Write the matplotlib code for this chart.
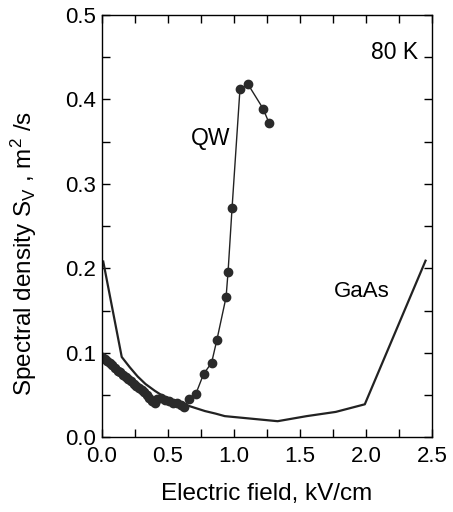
import matplotlib.pyplot as plt
from matplotlib.ticker import MultipleLocator

plt.rcParams['font.family'] = ['Liberation Sans', 'DejaVu Sans']
plt.rcParams['mathtext.fontset'] = 'custom'
plt.rcParams['mathtext.rm'] = 'Liberation Sans'
plt.rcParams['mathtext.it'] = 'Liberation Sans'

# GaAs curve (kV/cm, m^2/s)
x_gaas = [0.01, 0.15, 0.21, 0.27, 0.33, 0.40, 0.46, 0.53, 0.60, 0.68, 0.78, 0.86, 0.93,
          1.33, 1.55, 1.77, 1.99, 2.45]
y_gaas = [0.208, 0.095, 0.083, 0.072, 0.063, 0.055, 0.049, 0.044, 0.040, 0.036, 0.031, 0.028, 0.025,
          0.019, 0.025, 0.030, 0.039, 0.209]

# QW points
x_qw = [0.00, 0.02, 0.04, 0.06, 0.08, 0.10, 0.12, 0.14, 0.16, 0.18, 0.20,
        0.22, 0.24, 0.26, 0.28, 0.30, 0.32, 0.34, 0.36, 0.38, 0.40,
        0.42, 0.45, 0.48, 0.51, 0.54, 0.57, 0.60, 0.62,
        0.66, 0.71, 0.77, 0.83, 0.87, 0.94, 0.955, 0.985, 1.045, 1.105, 1.22, 1.265]
y_qw = [0.095, 0.093, 0.090, 0.088, 0.085, 0.082, 0.079, 0.077, 0.074, 0.071, 0.069,
        0.066, 0.063, 0.061, 0.058, 0.056, 0.053, 0.050, 0.047, 0.043, 0.040,
        0.045, 0.046, 0.044, 0.043, 0.041, 0.040, 0.038, 0.036,
        0.045, 0.051, 0.075, 0.088, 0.115, 0.166, 0.196, 0.271, 0.412, 0.418, 0.389, 0.372]

fig = plt.figure(figsize=(4.53, 5.12), dpi=100)
ax = fig.add_axes([0.225, 0.146, 0.729, 0.825])

ax.plot(x_gaas, y_gaas, color='#222222', lw=1.6)
ax.plot(x_qw, y_qw, color='#222222', lw=1.0, marker='o', ms=6, mfc='#2a2a2a', mec='#2a2a2a')

ax.text(2.39, 0.456, '80 K', fontsize=16.5, ha='right', va='center')
ax.text(0.82, 0.354, 'QW', fontsize=16.5, ha='center', va='center')
ax.text(1.97, 0.173, 'GaAs', fontsize=16, ha='center', va='center')

ax.set_xlim(0, 2.5)
ax.set_ylim(0, 0.5)
ax.xaxis.set_major_locator(MultipleLocator(0.5))
ax.xaxis.set_minor_locator(MultipleLocator(0.25))
ax.yaxis.set_major_locator(MultipleLocator(0.1))
ax.yaxis.set_minor_locator(MultipleLocator(0.05))
ax.tick_params(which='both', direction='in', top=True, right=True, labelsize=16, width=1)
ax.tick_params(which='major', length=6)
ax.tick_params(which='minor', length=6)
ax.tick_params(axis='x', pad=6)
ax.tick_params(axis='y', pad=4)
for s in ax.spines.values():
    s.set_linewidth(1.0)

ax.set_xlabel('Electric field, kV/cm', fontsize=17.5, labelpad=12)
ax.set_ylabel('Spectral density S$_V$ , m$^2$ /s', fontsize=17.5)
ax.yaxis.set_label_coords(-0.19, 0.436)

fig.savefig('out.png', dpi=100)
